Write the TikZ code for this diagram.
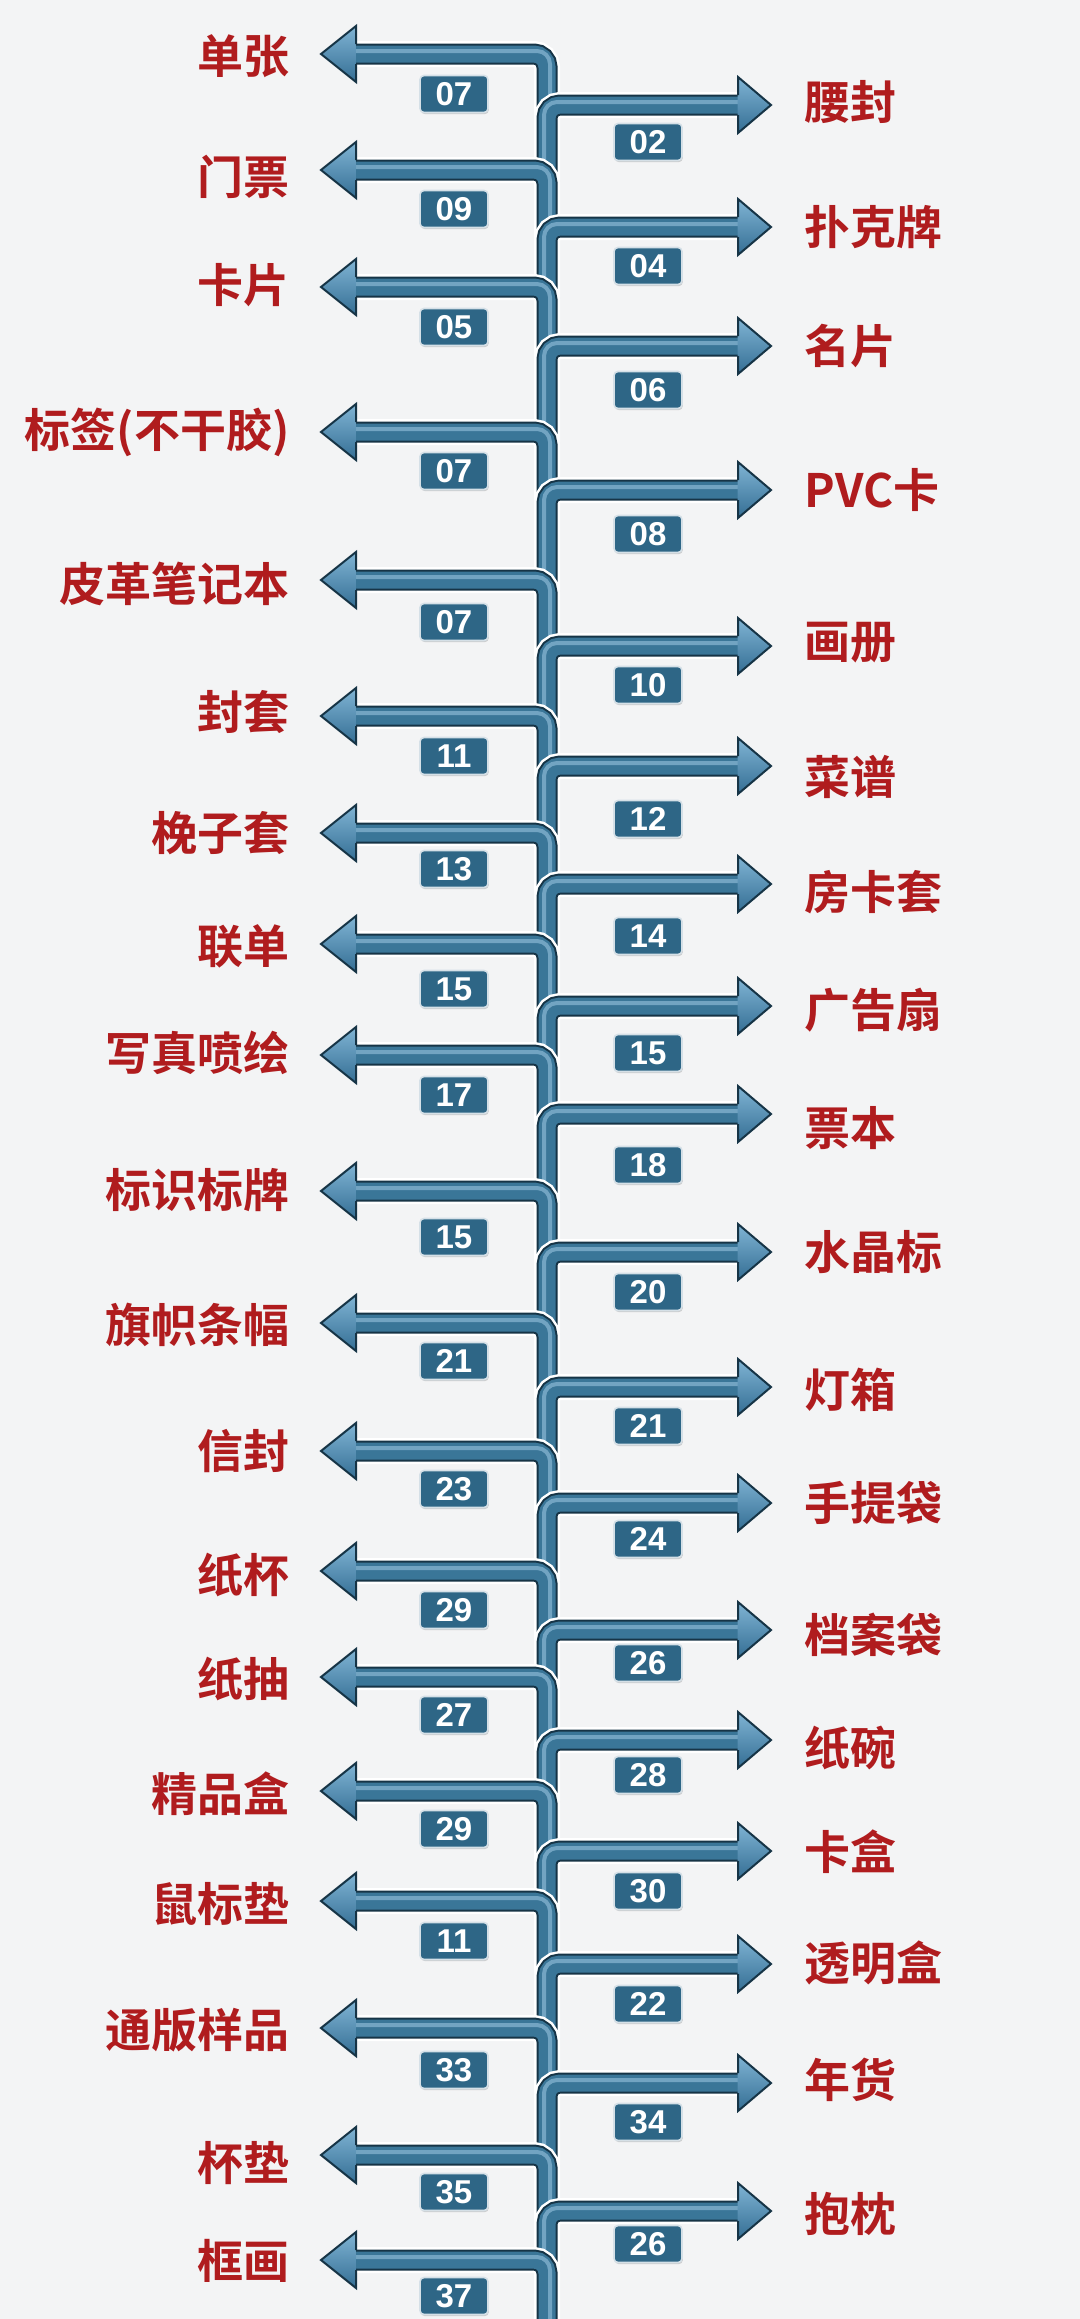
\documentclass[tikz,border=0pt]{standalone}
\usepackage{fontspec}
\usetikzlibrary{calc, shadows}
\newfontfamily\cjkbold{Noto Sans CJK SC Bold}
\newfontfamily\numfont{Liberation Sans}
\definecolor{pipeblue}{RGB}{58,118,152}
\definecolor{pipedark}{RGB}{22,52,70}
\definecolor{pipeshine}{RGB}{128,176,205}
\definecolor{headlight}{RGB}{128,180,212}
\definecolor{headdark}{RGB}{52,110,148}
\definecolor{badgeblue}{RGB}{46,102,134}
\definecolor{tagred}{RGB}{176,28,30}
\definecolor{paper}{RGB}{243,244,245}

\tikzset{
  pipe halo/.style={draw=white, line width=13pt, rounded corners=6.5pt},
  pipe edge/.style={draw=pipedark, line width=10.5pt, rounded corners=6.5pt},
  pipe body/.style={draw=pipeblue, line width=8.5pt, rounded corners=6.5pt},
  pipe shine/.style={draw=pipeshine, line width=2pt, rounded corners=6.5pt, opacity=0.8},
  head fill/.style={top color=headlight, bottom color=headdark},
  head edge/.style={draw=pipedark, line width=1pt},
  badge/.style={rectangle, rounded corners=2pt, fill=badgeblue, draw=white!80!badgeblue,
    line width=0.8pt, minimum width=34pt, minimum height=18.5pt, inner sep=0pt, text=white,
    font=\numfont\bfseries\fontsize{16.5}{16.5}\selectfont,
    drop shadow={shadow xshift=0.4pt, shadow yshift=-0.8pt, opacity=0.35}},
  tag/.style={inner sep=0pt, text=tagred, font=\cjkbold\fontsize{23}{23}\selectfont}
}

% #1 name, #2 arrow y, #3 leg end y, #4 label y, #5 label, #6 badge y, #7 number
\newcommand{\branchleft}[7]{%
  \coordinate (#1-end) at (547,#3);
  \coordinate (#1-turn) at (547,#2);
  \coordinate (#1-base) at (356,#2);
  \coordinate (#1-tip) at (321,#2);
  \draw[pipe halo] (#1-end) -- (#1-turn) -- (#1-base);
  \draw[pipe edge] (#1-end) -- (#1-turn) -- (#1-base);
  \draw[pipe body] (#1-end) -- (#1-turn) -- (#1-base);
  \draw[pipe shine] ([shift={(3,0)}]#1-end) -- ([shift={(3,-3)}]#1-turn) -- ([shift={(0,-3)}]#1-base);
  \shade[head fill] ($(#1-base)+(0.5,-28)$) -- (#1-tip) -- ($(#1-base)+(0.5,28)$) -- cycle;
  \draw[head edge] ($(#1-base)+(0,-10)$) -- ($(#1-base)+(0,-28)$) -- (#1-tip)
    -- ($(#1-base)+(0,28)$) -- ($(#1-base)+(0,10)$);
  \node[badge] (#1-no) at (454,#6) {#7};
  \node[tag, anchor=east] (#1-tag) at (290,#4) {#5};
}
\newcommand{\branchright}[7]{%
  \coordinate (#1-end) at (547,#3);
  \coordinate (#1-turn) at (547,#2);
  \coordinate (#1-base) at (738,#2);
  \coordinate (#1-tip) at (771,#2);
  \draw[pipe halo] (#1-end) -- (#1-turn) -- (#1-base);
  \draw[pipe edge] (#1-end) -- (#1-turn) -- (#1-base);
  \draw[pipe body] (#1-end) -- (#1-turn) -- (#1-base);
  \draw[pipe shine] ([shift={(-3,0)}]#1-end) -- ([shift={(-3,-3)}]#1-turn) -- ([shift={(0,-3)}]#1-base);
  \shade[head fill] ($(#1-base)+(-0.5,-28)$) -- (#1-tip) -- ($(#1-base)+(-0.5,28)$) -- cycle;
  \draw[head edge] ($(#1-base)+(0,-10)$) -- ($(#1-base)+(0,-28)$) -- (#1-tip)
    -- ($(#1-base)+(0,28)$) -- ($(#1-base)+(0,10)$);
  \node[badge] (#1-no) at (648,#6) {#7};
  \node[tag, anchor=west] (#1-tag) at (804,#4) {#5};
}

\begin{document}
\begin{tikzpicture}[x=0.5pt, y=-0.5pt]
  \fill[paper] (0,0) rectangle (1080,2319);
  \useasboundingbox (0,0) rectangle (1080,2319);

  \branchleft{L1}{54}{115}{56}{单张}{94}{07}
  \branchright{R1}{105}{180}{102}{腰封}{142}{02}
  \branchleft{L2}{170}{237}{177}{门票}{209}{09}
  \branchright{R2}{227}{297}{227}{扑克牌}{266}{04}
  \branchleft{L3}{287}{356}{285}{卡片}{327}{05}
  \branchright{R3}{346}{442}{346}{名片}{390}{06}
  \branchleft{L4}{432}{500}{432}{标签(不干胶)}{471}{07}
  \branchright{R4}{490}{590}{490}{PVC卡}{534}{08}
  \branchleft{L5}{580}{656}{584}{皮革笔记本}{622}{07}
  \branchright{R5}{646}{726}{643}{画册}{685}{10}
  \branchleft{L6}{716}{776}{712}{封套}{756}{11}
  \branchright{R6}{766}{843}{777}{菜谱}{819}{12}
  \branchleft{L7}{833}{894}{833}{梚子套}{869}{13}
  \branchright{R7}{884}{954}{892}{房卡套}{936}{14}
  \branchleft{L8}{944}{1016}{946}{联单}{989}{15}
  \branchright{R8}{1006}{1065}{1010}{广告扇}{1053}{15}
  \branchleft{L9}{1055}{1124}{1053}{写真喷绘}{1095}{17}
  \branchright{R9}{1114}{1201}{1128}{票本}{1165}{18}
  \branchleft{L10}{1191}{1262}{1190}{标识标牌}{1237}{15}
  \branchright{R10}{1252}{1333}{1252}{水晶标}{1292}{20}
  \branchleft{L11}{1323}{1397}{1325}{旗帜条幅}{1361}{21}
  \branchright{R11}{1387}{1461}{1390}{灯箱}{1426}{21}
  \branchleft{L12}{1451}{1513}{1451}{信封}{1489}{23}
  \branchright{R12}{1503}{1581}{1503}{手提袋}{1539}{24}
  \branchleft{L13}{1571}{1640}{1575}{纸杯}{1610}{29}
  \branchright{R13}{1630}{1687}{1635}{档案袋}{1663}{26}
  \branchleft{L14}{1677}{1750}{1679}{纸抽}{1715}{27}
  \branchright{R14}{1740}{1801}{1748}{纸碗}{1775}{28}
  \branchleft{L15}{1791}{1861}{1794}{精品盒}{1829}{29}
  \branchright{R15}{1851}{1911}{1852}{卡盒}{1891}{30}
  \branchleft{L16}{1901}{1974}{1904}{鼠标垫}{1941}{11}
  \branchright{R16}{1964}{2038}{1963}{透明盒}{2004}{22}
  \branchleft{L17}{2028}{2093}{2030}{通版样品}{2070}{33}
  \branchright{R17}{2083}{2165}{2080}{年货}{2122}{34}
  \branchleft{L18}{2155}{2221}{2163}{杯垫}{2192}{35}
  \branchright{R18}{2211}{2270}{2214}{抱枕}{2244}{26}
  \branchleft{L19}{2260}{2330}{2261}{框画}{2296}{37}
\end{tikzpicture}
\end{document}
